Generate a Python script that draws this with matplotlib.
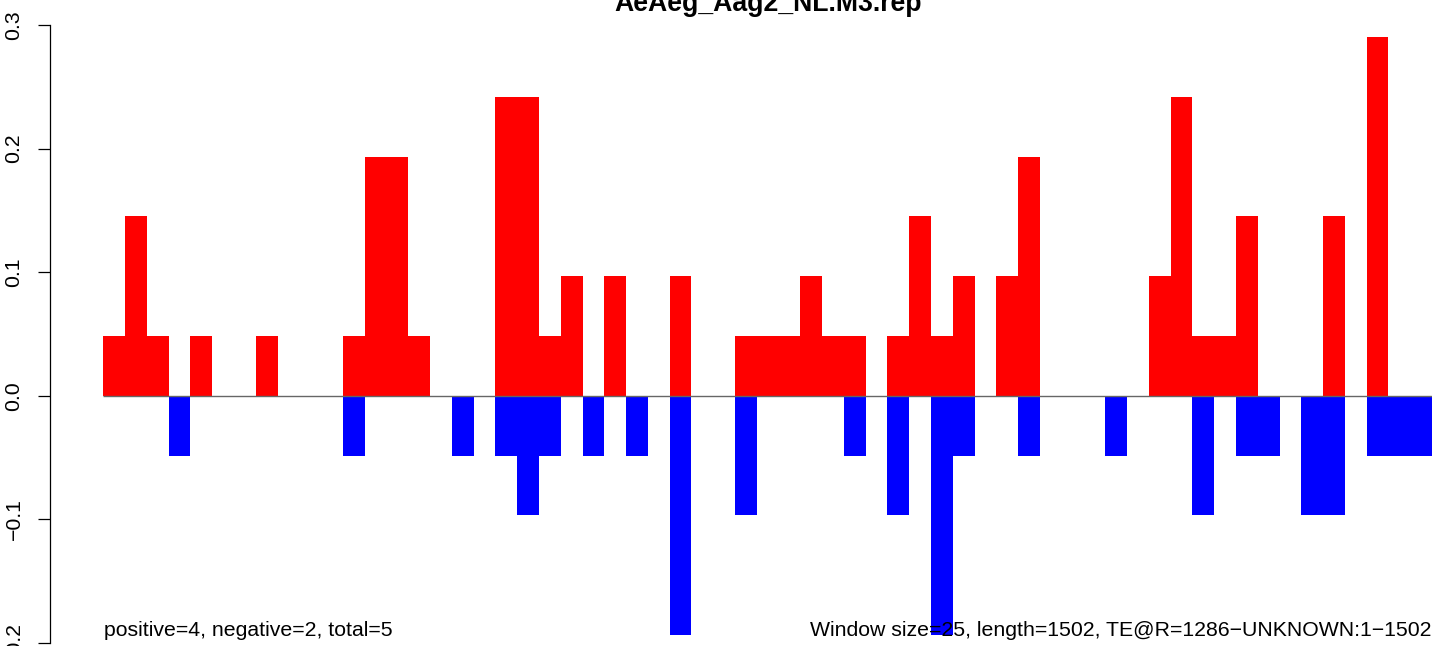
import matplotlib
matplotlib.use("Agg")
import matplotlib.pyplot as plt
import numpy as np

plt.rcParams['font.family'] = ['Liberation Sans', 'DejaVu Sans']

title = "AeAeg_Aag2_NL.M3.rep"
left_note = "positive=4, negative=2, total=5"
right_note = "Window size=25, length=1502, TE@R=1286\u2212UNKNOWN:1\u22121502"

# window index 0..60
windows = list(range(61))
positive = [0.0484, 0.1451, 0.0484, 0, 0.0484, 0, 0, 0.0484, 0, 0,
            0, 0.0484, 0.1935, 0.1935, 0.0484, 0, 0, 0, 0.2419, 0.2419,
            0.0484, 0.0967, 0, 0.0967, 0, 0, 0.0967, 0, 0, 0.0484,
            0.0484, 0.0484, 0.0967, 0.0484, 0.0484, 0, 0.0484, 0.1451, 0.0484, 0.0967,
            0, 0.0967, 0.1935, 0, 0, 0, 0, 0, 0.0967, 0.2419,
            0.0484, 0.0484, 0.1451, 0, 0, 0, 0.1451, 0, 0.2902, 0, 0]
negative = [0, 0, 0, -0.0484, 0, 0, 0, 0, 0, 0,
            0, -0.0484, 0, 0, 0, 0, -0.0484, 0, -0.0484, -0.0967,
            -0.0484, 0, -0.0484, 0, -0.0484, 0, -0.1935, 0, 0, -0.0967,
            0, 0, 0, 0, -0.0484, 0, -0.0967, 0, -0.1935, -0.0484,
            0, 0, -0.0484, 0, 0, 0, -0.0484, 0, 0, 0,
            -0.0967, 0, -0.0484, -0.0484, 0, -0.0967, -0.0967, 0, -0.0484, -0.0484, -0.0484]
yticks = [-0.2, -0.1, 0.0, 0.1, 0.2, 0.3]
ytick_labels = ["\u22120.2", "\u22120.1", "0.0", "0.1", "0.2", "0.3"]

W, H = 1441, 646
fig = plt.figure(figsize=(W / 100, H / 100), dpi=100)
ax_l, ax_r, ax_t, ax_b = 50, 1432, 25, 643
ax = fig.add_axes([ax_l / W, 1 - ax_b / H, (ax_r - ax_l) / W, (ax_b - ax_t) / H])

bw = 21.78
x0 = -(103.33 - ax_l) / bw
ax.bar(windows, positive, width=1, align='edge', color='#FF0000', linewidth=0, antialiased=False)
ax.bar(windows, negative, width=1, align='edge', color='#0000FF', linewidth=0, antialiased=False)
ax.hlines(0, 0, len(windows), colors='#666666', linewidth=1)

ax.set_xlim(x0, len(windows))
ax.set_ylim(-0.2, 0.3)
for s in ['top', 'right', 'bottom']:
    ax.spines[s].set_visible(False)
ax.spines['left'].set_linewidth(0.9)
ax.set_xticks([])
ax.set_yticks(yticks)
ax.set_yticklabels(ytick_labels, rotation=90, va='center')
ax.tick_params(axis='y', length=8.6, width=0.9, pad=10.5, labelsize=15.3)

fig.text(768 / W, 1 - 11 / H, title, ha='center', va='baseline', fontsize=19.2, fontweight='bold')
fig.text(104 / W, 1 - 636 / H, left_note, ha='left', va='baseline', fontsize=15.3)
fig.text(1432 / W, 1 - 636 / H, right_note, ha='right', va='baseline', fontsize=15.3)

fig.savefig("out.png", dpi=100)
